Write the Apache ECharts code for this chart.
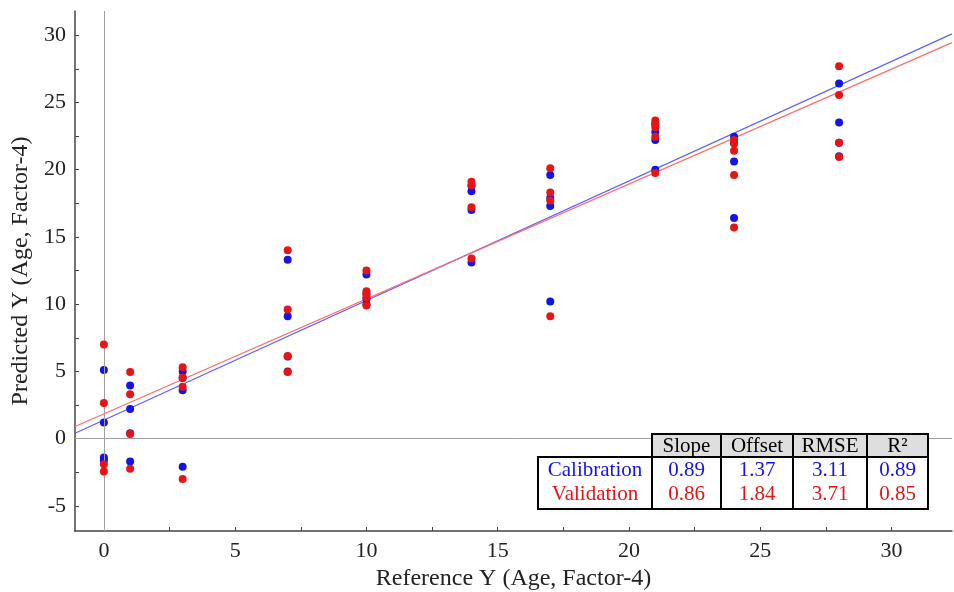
<!DOCTYPE html>
<html>
<head>
<meta charset="utf-8">
<script src="https://cdn.jsdelivr.net/npm/echarts@6/dist/echarts.min.js"></script>
<style>
  html, body { margin: 0; padding: 0; background: #fff; }
  #main { width: 954px; height: 592px; }
</style>
</head>
<body>
<div id="main"></div>
<script>
// calibration points (blue) [reference, predicted]
let calibration = [
  [0, 5.1], [0, 1.2], [0, -1.4], [0, -1.6],
  [1, 3.95], [1, 2.2], [1, 0.4], [1, -1.7],
  [3, 5.0], [3, 4.5], [3, 3.6], [3, -2.1],
  [7, 13.3], [7, 9.1], [7, 6.1], [7, 5.0],
  [10, 12.2], [10, 10.8], [10, 10.4], [10, 10.0],
  [14, 18.8], [14, 18.4], [14, 17.0], [14, 13.1],
  [17, 19.6], [17, 17.9], [17, 17.3], [17, 10.2],
  [21, 23.4], [21, 22.8], [21, 22.2], [21, 20.0],
  [24, 22.45], [24, 22.0], [24, 20.6], [24, 16.4],
  [28, 26.4], [28, 23.5], [28, 22.0], [28, 21.0]
];
// validation points (red)
let validation = [
  [0, 7.0], [0, 2.65], [0, -1.9], [0, -2.45],
  [1, 4.95], [1, 3.3], [1, 0.35], [1, -2.25],
  [3, 5.3], [3, 4.55], [3, 3.85], [3, -3.0],
  [7, 14.0], [7, 9.6], [7, 6.15], [7, 4.95],
  [10, 12.5], [10, 10.95], [10, 10.7], [10, 10.5], [10, 9.9],
  [14, 19.1], [14, 18.85], [14, 17.2], [14, 13.4],
  [17, 20.1], [17, 18.3], [17, 17.7], [17, 9.1],
  [21, 23.65], [21, 23.4], [21, 23.15], [21, 22.45], [21, 19.75],
  [24, 22.2], [24, 21.95], [24, 21.4], [24, 19.6], [24, 15.7],
  [28, 27.7], [28, 25.55], [28, 22.0], [28, 20.95]
];
// fitted lines, end points
let calFit = [[-1.1, 0.4], [32.3, 30.1]];
let valFit = [[-1.1, 0.9], [32.3, 29.45]];

// tick labels
let xLabels = [0, 5, 10, 15, 20, 25, 30];
let xTicks = [0, 2.5, 5, 7.5, 10, 12.5, 15, 17.5, 20, 22.5, 25, 27.5, 30, 32.5];
let yLabels = [-5, 0, 5, 10, 15, 20, 25, 30];
let yTicks = [-5, -2.5, 0, 2.5, 5, 7.5, 10, 12.5, 15, 17.5, 20, 22.5, 25, 27.5, 30];

// table
let tableHead = ['Slope', 'Offset', 'RMSE', 'R\u00B2'];
let calStats = ['0.89', '1.37', '3.11', '0.89'];
let valStats = ['0.86', '1.84', '3.71', '0.85'];

const BLUE = '#1414e6';
const RED = '#e61414';
const FONT = '"Liberation Serif", "DejaVu Serif", serif';

let chart = echarts.init(document.getElementById('main'));

// table graphic
let colX = [538, 652, 721, 793, 867, 928];
let headTop = 434, bodyTop = 457, bodyBot = 509;
let g = [];
g.push({ type: 'rect', shape: { x: colX[1], y: headTop, width: colX[5] - colX[1], height: bodyTop - headTop },
  style: { fill: '#dedede', stroke: '#000', lineWidth: 2 }, z: 100 });
g.push({ type: 'rect', shape: { x: colX[0], y: bodyTop, width: colX[5] - colX[0], height: bodyBot - bodyTop },
  style: { fill: '#fff', stroke: '#000', lineWidth: 2 }, z: 100 });
for (let i = 1; i < 5; i++) {
  g.push({ type: 'line', shape: { x1: colX[i], y1: i === 1 ? bodyTop : headTop, x2: colX[i], y2: bodyBot },
    style: { stroke: '#000', lineWidth: 2 }, z: 101 });
}
function cellText(txt, cx, cy, color) {
  return { type: 'text', x: cx, y: cy, z: 102,
    style: { text: txt, fill: color, font: '21px ' + FONT, align: 'center', verticalAlign: 'middle' } };
}
tableHead.forEach((t, i) => g.push(cellText(t, (colX[i + 1] + colX[i + 2]) / 2, 446, '#000')));
g.push(cellText('Calibration', (colX[0] + colX[1]) / 2, 470, BLUE));
g.push(cellText('Validation', (colX[0] + colX[1]) / 2, 494, RED));
calStats.forEach((t, i) => g.push(cellText(t, (colX[i + 1] + colX[i + 2]) / 2, 470, BLUE)));
valStats.forEach((t, i) => g.push(cellText(t, (colX[i + 1] + colX[i + 2]) / 2, 494, RED)));

let option = {
  animation: false,
  backgroundColor: '#fff',
  grid: { left: 75, right: 2, top: 11, bottom: 61, outerBoundsMode: 'none' },
  xAxis: {
    type: 'value', min: -1.1, max: 32.3,
    name: 'Reference Y (Age, Factor-4)', nameLocation: 'middle', nameGap: 32,
    nameTextStyle: { fontFamily: FONT, fontSize: 24, color: '#222' },
    axisLine: { onZero: false, lineStyle: { color: '#444', width: 1.5 } },
    axisTick: { inside: true, length: 4, customValues: xTicks, lineStyle: { color: '#444' } },
    axisLabel: { customValues: xLabels, fontFamily: FONT, fontSize: 22, color: '#222', margin: 9 },
    splitLine: { show: false }
  },
  yAxis: {
    type: 'value', min: -6.87, max: 31.8,
    name: 'Predicted Y (Age, Factor-4)', nameLocation: 'middle', nameGap: 41,
    nameTextStyle: { fontFamily: FONT, fontSize: 24, color: '#222' },
    axisLine: { onZero: false, lineStyle: { color: '#444', width: 1.5 } },
    axisTick: { inside: true, length: 4, customValues: yTicks, lineStyle: { color: '#444' } },
    axisLabel: { customValues: yLabels, fontFamily: FONT, fontSize: 22, color: '#222', margin: 9 },
    splitLine: { show: false }
  },
  series: [
    {
      type: 'line', data: [], silent: true,
      markLine: {
        silent: true, symbol: 'none', label: { show: false },
        lineStyle: { color: '#a0a0a0', width: 1, type: 'solid' },
        data: [{ xAxis: 0 }, { yAxis: 0 }]
      }
    },
    {
      name: 'Calibration fit', type: 'line', data: calFit, showSymbol: false, silent: true,
      lineStyle: { color: '#6060ff', width: 1.2 }, z: 3
    },
    {
      name: 'Validation fit', type: 'line', data: valFit, showSymbol: false, silent: true,
      lineStyle: { color: '#ff6a6a', width: 1.2 }, z: 3
    },
    {
      name: 'Calibration', type: 'scatter', data: calibration, symbolSize: 8,
      itemStyle: { color: BLUE, opacity: 1 }, z: 4
    },
    {
      name: 'Validation', type: 'scatter', data: validation, symbolSize: 8,
      itemStyle: { color: RED, opacity: 1 }, z: 5
    }
  ],
  graphic: g
};
chart.setOption(option);
</script>
</body>
</html>
